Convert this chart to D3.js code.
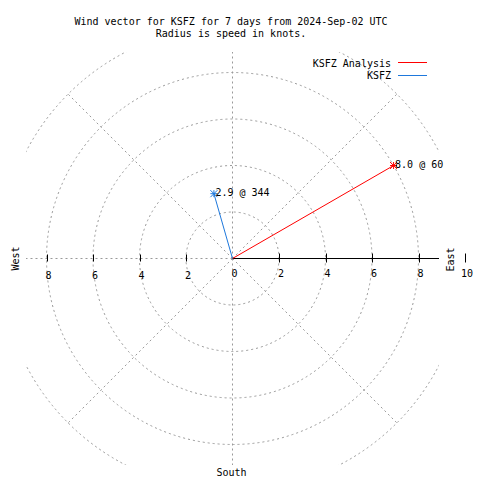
<!DOCTYPE html>
<html><head><meta charset="utf-8">
<script src="https://cdn.jsdelivr.net/npm/d3@7"></script>
<style>body{margin:0;background:#fff}svg{display:block}text{font-family:"DejaVu Sans Mono",monospace;font-size:10px;fill:#000}</style>
</head><body>
<script>
const titleLines = ["Wind vector for KSFZ for 7 days from 2024-Sep-02 UTC", "Radius is speed in knots."];
const seriesNames = ["KSFZ Analysis", "KSFZ"];
const speeds = [8.0, 2.9];
const directions = [60, 344];
const seriesColors = ["#ff0000", "#1e78dc"];
const circleValues = [2, 4, 6, 8, 10];
const rightTicks = [0, 2, 4, 6, 8, 10];
const leftTicks = [2, 4, 6, 8];
const radialAngles = [0, 45, 90, 135, 180, 225, 270, 315];

const W = 480, H = 480, cx = 232.5, cy = 258.5, half = 206.5;
const r = d3.scaleLinear().domain([0, 10]).range([0, 232.5]);
const svg = d3.select("body").append("svg").attr("width", W).attr("height", H);

svg.append("clipPath").attr("id", "plotclip").append("rect")
  .attr("x", cx - half).attr("y", cy - half).attr("width", 2 * half).attr("height", 2 * half);

const grid = svg.append("g").attr("clip-path", "url(#plotclip)")
  .attr("stroke", "#999").attr("stroke-dasharray", "2,3").attr("fill", "none").attr("stroke-width", 1);
grid.selectAll("circle").data(circleValues).join("circle")
  .attr("cx", cx).attr("cy", cy).attr("r", d => r(d));
grid.selectAll("line").data(radialAngles).join("line")
  .attr("x1", cx).attr("y1", cy)
  .attr("x2", a => cx + r(10) * Math.sin(a * Math.PI / 180))
  .attr("y2", a => cy - r(10) * Math.cos(a * Math.PI / 180));

// Title
svg.selectAll("text.title").data(titleLines).join("text").attr("class", "title")
  .attr("x", 231).attr("y", (d, i) => 24.5 + i * 12).attr("text-anchor", "middle").text(d => d);

// Axis (east)
const ax = svg.append("g");
ax.append("line").attr("x1", cx).attr("x2", cx + half).attr("y1", cy).attr("y2", cy)
  .attr("stroke", "#000");
ax.selectAll("line.tk").data(rightTicks.filter(d => d > 0)).join("line").attr("class", "tk")
  .attr("x1", d => Math.round(cx + r(d)) + 0.5).attr("x2", d => Math.round(cx + r(d)) + 0.5)
  .attr("y1", cy - 5).attr("y2", cy + 4).attr("stroke", "#000");
ax.selectAll("text.rl").data(rightTicks).join("text").attr("class", "rl")
  .attr("x", d => cx + r(d) + 2).attr("y", 277).attr("text-anchor", "middle").text(d => d);

// Left ticks
svg.selectAll("line.lt").data(leftTicks).join("line").attr("class", "lt")
  .attr("x1", d => Math.round(cx - r(d)) + 0.5).attr("x2", d => Math.round(cx - r(d)) + 0.5)
  .attr("y1", cy - 4).attr("y2", cy + 3).attr("stroke", "#000");
svg.selectAll("text.ll").data(leftTicks).join("text").attr("class", "ll")
  .attr("x", d => cx - r(d) + 2).attr("y", 279.3).attr("text-anchor", "middle").text(d => d);

// Compass labels
svg.append("text").attr("transform", `translate(454,259.5) rotate(-90)`).attr("text-anchor", "middle").text("East");
svg.append("text").attr("transform", `translate(19,258.5) rotate(-90)`).attr("text-anchor", "middle").text("West");
svg.append("text").attr("x", 231.5).attr("y", 476).attr("text-anchor", "middle").text("South");

// Vectors
const pts = speeds.map((s, i) => ({
  s, d: directions[i], c: seriesColors[i],
  x: cx + r(s) * Math.sin(directions[i] * Math.PI / 180),
  y: cy - r(s) * Math.cos(directions[i] * Math.PI / 180)
}));
const vg = svg.append("g");
pts.forEach(p => {
  vg.append("line").attr("x1", cx).attr("y1", cy).attr("x2", p.x).attr("y2", p.y).attr("stroke", p.c);
  const m = 3.5;
  [[-m, 0, m, 0], [0, -m, 0, m], [-m, -m, m, m], [-m, m, m, -m]].forEach(s => {
    vg.append("line").attr("x1", p.x + s[0]).attr("y1", p.y + s[1]).attr("x2", p.x + s[2]).attr("y2", p.y + s[3])
      .attr("stroke", p.c);
  });
  vg.append("text").attr("x", p.x + 1.5).attr("y", p.y + 2.8).text(`${p.s.toFixed(1)} @ ${p.d}`);
});

// Legend
const lg = svg.append("g");
seriesNames.forEach((n, i) => {
  lg.append("text").attr("x", 391).attr("y", 66.8 + i * 12).attr("text-anchor", "end").text(n);
  lg.append("line").attr("x1", 398).attr("x2", 427).attr("y1", 62.5 + i * 13).attr("y2", 62.5 + i * 13)
    .attr("stroke", seriesColors[i]);
});
</script>
</body></html>
